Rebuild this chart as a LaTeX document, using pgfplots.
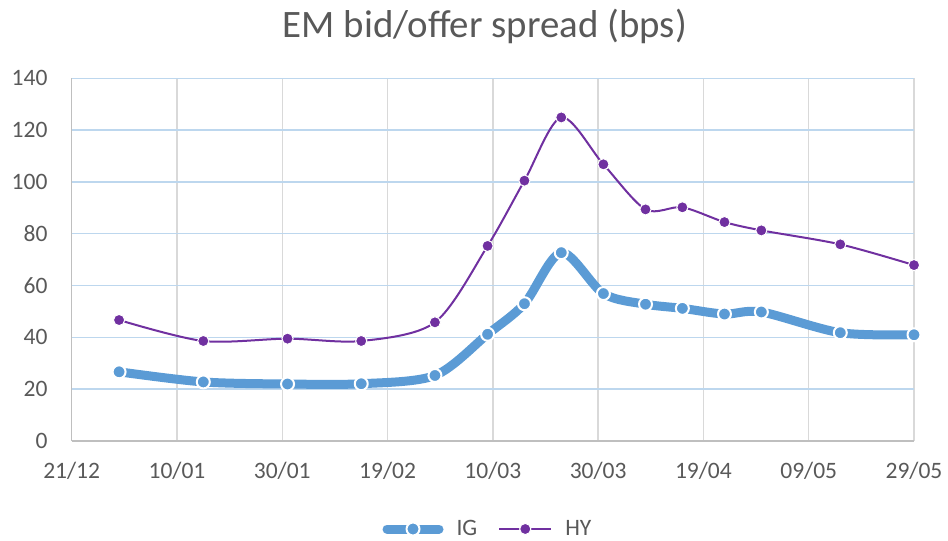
\documentclass[border=0pt]{standalone}
\usepackage{pgfplots}
\pgfplotsset{compat=1.18}
\usepackage{fontspec}
\setmainfont{Carlito}
\definecolor{igblue}{HTML}{5B9BD5}
\definecolor{hypurple}{HTML}{7030A0}
\definecolor{txtgray}{HTML}{595959}
\definecolor{hgrid}{HTML}{BDD7EE}
\definecolor{vgrid}{HTML}{D9D9D9}
\definecolor{axgray}{HTML}{BFBFBF}

\pgfplotstableread{
day ig
9   26.7
25  22.8
41  22.0
55  22.1
69  25.3
79  41.2
86  53.0
93  72.7
101 56.9
109 52.8
116 51.2
124 49.0
131 49.8
146 41.8
160 41.0
}\igdata

\pgfplotstableread{
day hy
9   46.7
25  38.6
41  39.5
55  38.6
69  45.8
79  75.3
86  100.5
93  124.9
101 106.8
109 89.4
116 90.2
124 84.5
131 81.3
146 75.9
160 67.9
}\hydata

\begin{document}
\begin{tikzpicture}
\useasboundingbox (-71.7bp,-100bp) rectangle (876.3bp,441bp);
\begin{axis}[
  at={(0,0)}, anchor=south west,
  scale only axis, width=842.3bp, height=362.7bp,
  xmin=0, xmax=160, ymin=0, ymax=140,
  xtick={0,20,...,160},
  xticklabels={21/12,10/01,30/01,19/02,10/03,30/03,19/04,09/05,29/05},
  ytick={0,20,...,140},
  /pgf/number format/assume math mode=true,
  major tick length=0pt,
  axis x line=bottom, axis y line=left,
  axis line style={-, draw=axgray, line width=1.5bp},
  xmajorgrids, ymajorgrids,
  x grid style={draw=vgrid, line width=1.5bp},
  y grid style={draw=hgrid, line width=1.5bp},
  tick label style={font=\fontsize{23.6}{28}\selectfont, text=txtgray},
  yticklabel style={anchor=east, inner sep=0pt, xshift=-24bp},
  xticklabel style={anchor=base, inner sep=0pt, yshift=-37bp},
  title={EM bid/offer spread (bps)},
  title style={at={(0.5,1)}, anchor=base, yshift=35.3bp, xshift=-8bp, inner sep=0pt,
    font=\fontsize{39}{46}\selectfont, text=txtgray},
  legend style={at={(0.493,0)}, anchor=center, yshift=-88bp, draw=none, fill=none,
    font=\fontsize{23.6}{28}\selectfont, text=txtgray,
    nodes={inner sep=0pt},
    /tikz/every odd column/.append style={column sep=13bp},
    /tikz/every even column/.append style={column sep=21bp}},
  legend columns=-1,
  legend image code/.code={\draw[mark repeat=2,mark phase=2,#1] plot coordinates {(0bp,0bp) (26bp,0bp) (52bp,0bp)};},
  clip=false,
]
\addplot[igblue, line width=9bp, line cap=round, line join=round, smooth, mark=*, mark size=6.5bp,
  mark options={fill=igblue, draw=white, line width=2bp}] table[x=day, y=ig] {\igdata};
\addlegendentry{IG}
\addplot[hypurple, line width=2bp, smooth, mark=*, mark size=5.6bp,
  mark options={fill=hypurple, draw=white, line width=1bp}] table[x=day, y=hy] {\hydata};
\addlegendentry{HY}
\end{axis}
\end{tikzpicture}
\end{document}
